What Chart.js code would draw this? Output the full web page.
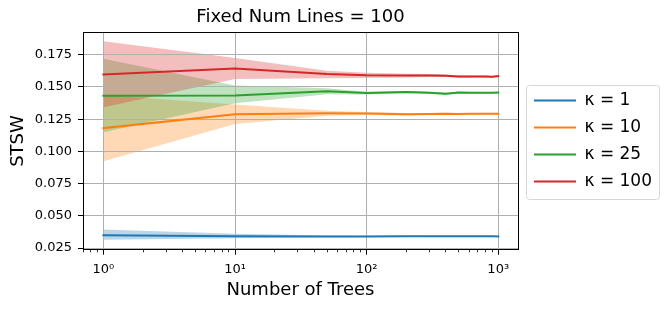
<!DOCTYPE html>
<html>
<head>
<meta charset="utf-8">
<script src="https://cdn.jsdelivr.net/npm/chart.js@4/dist/chart.umd.min.js"></script>
<style>
html,body{margin:0;padding:0;background:#fff;}
#wrap{width:670px;height:312px;position:relative;}
</style>
</head>
<body>
<div id="wrap"><canvas id="c"></canvas></div>
<script>
// ---- data ----
const titleText = 'Fixed Num Lines = 100';
const xAxisLabel = 'Number of Trees';
const yAxisLabel = 'STSW';
const numTrees = [1, 10, 50, 100, 200, 300, 400, 500, 600, 700, 800, 900, 1000];
const seriesLabels = ['κ = 1', 'κ = 10', 'κ = 25', 'κ = 100'];
const seriesColors = ['#1f77b4', '#ff7f0e', '#2ca02c', '#d62728'];
const bandColors = ['rgba(31,119,180,0.3)', 'rgba(255,127,14,0.3)', 'rgba(44,160,44,0.3)', 'rgba(214,39,40,0.3)'];

const meanK1  = [0.0350,0.0342,0.0340,0.0340,0.0342,0.0341,0.0341,0.0341,0.0341,0.0341,0.0341,0.0341,0.0340];
const lowK1   = [0.0315,0.0325,0.0333,0.0335,0.0338,0.0338,0.0338,0.0338,0.0339,0.0339,0.0339,0.0339,0.0338];
const highK1  = [0.0393,0.0360,0.0347,0.0345,0.0346,0.0344,0.0344,0.0344,0.0343,0.0343,0.0343,0.0343,0.0342];

const meanK10 = [0.1181,0.1288,0.1296,0.1294,0.1288,0.1290,0.1292,0.1290,0.1291,0.1291,0.1291,0.1292,0.1292];
const lowK10  = [0.0924,0.1213,0.1276,0.1282,0.1279,0.1282,0.1285,0.1283,0.1284,0.1284,0.1285,0.1286,0.1286];
const highK10 = [0.1438,0.1363,0.1316,0.1306,0.1297,0.1298,0.1299,0.1297,0.1298,0.1298,0.1297,0.1298,0.1298];

const meanK25 = [0.1431,0.1433,0.1467,0.1452,0.1460,0.1455,0.1447,0.1456,0.1455,0.1454,0.1455,0.1455,0.1456];
const lowK25  = [0.1148,0.1374,0.1444,0.1441,0.1451,0.1447,0.1440,0.1449,0.1448,0.1448,0.1449,0.1449,0.1450];
const highK25 = [0.1719,0.1511,0.1489,0.1463,0.1469,0.1463,0.1454,0.1463,0.1462,0.1460,0.1461,0.1461,0.1462];

const meanK100 = [0.1597,0.1643,0.1600,0.1590,0.1588,0.1588,0.1587,0.1580,0.1580,0.1581,0.1580,0.1578,0.1584];
const lowK100  = [0.1343,0.1562,0.1568,0.1570,0.1573,0.1576,0.1577,0.1571,0.1572,0.1573,0.1572,0.1571,0.1577];
const highK100 = [0.1854,0.1724,0.1625,0.1609,0.1603,0.1600,0.1597,0.1589,0.1588,0.1589,0.1588,0.1585,0.1591];

const xTickValues = [1, 10, 100, 1000];
const xTickLabels = ['10⁰', '10¹', '10²', '10³'];
const yTickValues = [0.025, 0.050, 0.075, 0.100, 0.125, 0.150, 0.175];

// ---- build datasets ----
const means = [meanK1, meanK10, meanK25, meanK100];
const lows = [lowK1, lowK10, lowK25, lowK100];
const highs = [highK1, highK10, highK25, highK100];
const pts = arr => arr.map((v, i) => ({x: numTrees[i], y: v}));

const datasets = [];
for (let i = 0; i < 4; i++) {
  datasets.push({
    label: seriesLabels[i], data: pts(means[i]),
    borderColor: seriesColors[i], backgroundColor: seriesColors[i],
    borderWidth: 2, pointRadius: 0, fill: false, tension: 0,
    borderCapStyle: 'square', order: 3 - i
  });
}
for (let i = 0; i < 4; i++) {
  datasets.push({
    label: '_band_hi', data: pts(highs[i]), borderWidth: 0, pointRadius: 0,
    borderColor: 'rgba(0,0,0,0)', backgroundColor: bandColors[i], fill: '+1', tension: 0,
    order: 13 - i, _lastBand: i === 3
  });
  datasets.push({
    label: '_band_lo', data: pts(lows[i]), borderWidth: 0, pointRadius: 0,
    borderColor: 'rgba(0,0,0,0)', backgroundColor: bandColors[i], fill: false, tension: 0,
    order: 13 - i
  });
}

const alignPx = p => Math.round(p - 0.5) + 0.5;

const gridOverBands = {
  id: 'gridOverBands',
  afterDatasetDraw(chart, args) {
    const ds = chart.data.datasets[args.index];
    if (!ds._lastBand) return;
    const ctx = chart.ctx, a = chart.chartArea;
    ctx.save();
    ctx.beginPath(); ctx.rect(a.left, a.top, a.right - a.left, a.bottom - a.top); ctx.clip();
    ctx.strokeStyle = '#b0b0b0'; ctx.lineWidth = 1;
    const xs = chart.scales.x, ys = chart.scales.y;
    xs.ticks.forEach(t => {
      const p = alignPx(xs.getPixelForValue(t.value));
      ctx.beginPath(); ctx.moveTo(p, a.top); ctx.lineTo(p, a.bottom); ctx.stroke();
    });
    ys.ticks.forEach(t => {
      const p = alignPx(ys.getPixelForValue(t.value));
      ctx.beginPath(); ctx.moveTo(a.left, p); ctx.lineTo(a.right, p); ctx.stroke();
    });
    ctx.restore();
  }
};

const frameAndMinor = {
  id: 'frameAndMinor',
  afterDraw(chart) {
    const ctx = chart.ctx, a = chart.chartArea;
    ctx.save();
    ctx.strokeStyle = '#000'; ctx.lineWidth = 1;
    ctx.strokeRect(alignPx(a.left), alignPx(a.top), Math.round(a.right - a.left), Math.round(a.bottom - a.top));
    // minor ticks on log x axis
    const xs = chart.scales.x;
    ctx.lineWidth = 0.8;
    for (let k = -1; k <= 3; k++) {
      for (let m = 2; m <= 9; m++) {
        const v = m * Math.pow(10, k);
        if (v <= xs.min || v >= xs.max) continue;
        const p = alignPx(xs.getPixelForValue(v));
        const yb = alignPx(a.bottom);
        ctx.beginPath(); ctx.moveTo(p, yb); ctx.lineTo(p, yb + 2.8); ctx.stroke();
      }
    }
    // legend frame
    const lg = chart.legend;
    if (lg && lg.legendHitBoxes && lg.legendHitBoxes.length) {
      const hb = lg.legendHitBoxes;
      const l = hb[0].left - 7;
      let r = 0; hb.forEach(h => { r = Math.max(r, h.left + h.width); });
      r += 8;
      const t = hb[0].top + hb[0].height / 2 - 15;
      const b = hb[hb.length - 1].top + hb[hb.length - 1].height / 2 + 18;
      ctx.strokeStyle = '#d6d6d6'; ctx.lineWidth = 1;
      ctx.beginPath();
      ctx.roundRect(alignPx(l), alignPx(t), Math.round(r - l), Math.round(b - t), 3);
      ctx.stroke();
    }
    ctx.restore();
  }
};

Chart.defaults.font.family = '"DejaVu Sans", sans-serif';
Chart.defaults.color = '#000';

new Chart(document.getElementById('c'), {
  type: 'line',
  data: {datasets},
  plugins: [gridOverBands, frameAndMinor],
  options: {
    responsive: true, maintainAspectRatio: false, animation: false,
    layout: {padding: {left: 0, right: 8, top: 0, bottom: 6}},
    plugins: {
      title: {display: true, text: titleText, fullSize: false, color: '#000',
        font: {size: 18, weight: 'normal', lineHeight: 1.2}, padding: {top: 6.5, bottom: 4.3}},
      legend: {
        position: 'right', fullSize: false, align: 'center', maxWidth: 220,
        labels: {
          font: {size: 17}, boxWidth: 42, boxHeight: 2, padding: 10, color: '#000',
          generateLabels(chart) {
            const items = Chart.defaults.plugins.legend.labels.generateLabels(chart);
            return items.filter(it => it.datasetIndex < 4)
              .sort((p, q) => p.datasetIndex - q.datasetIndex)
              .map(it => Object.assign(it, {lineWidth: 0, fillStyle: seriesColors[it.datasetIndex]}));
          }
        }
      },
      tooltip: {enabled: false}
    },
    scales: {
      x: {
        type: 'logarithmic', position: 'bottom',
        min: Math.pow(10, -0.15), max: Math.pow(10, 3.15),
        afterBuildTicks(s) { s.ticks = xTickValues.map(v => ({value: v})); },
        afterFit(s) { s.height = 56.3; },
        ticks: {font: {size: 13}, padding: 7, maxRotation: 0, autoSkip: false,
          callback(v) { const i = xTickValues.indexOf(v); return i >= 0 ? xTickLabels[i] : ''; }},
        grid: {color: '#b0b0b0', lineWidth: 1, tickColor: '#000', tickLength: 5, tickWidth: 1},
        border: {display: false},
        title: {display: true, text: xAxisLabel, font: {size: 18, lineHeight: 1.2}, padding: {top: 4, bottom: 4.4}}
      },
      y: {
        type: 'linear', position: 'left',
        min: 0.0237, max: 0.1923,
        afterBuildTicks(s) { s.ticks = yTickValues.map(v => ({value: v})); },
        afterFit(s) { s.width = 83; },
        ticks: {font: {size: 13}, padding: 6, autoSkip: false, callback: v => Number(v).toFixed(3)},
        grid: {color: '#b0b0b0', lineWidth: 1, tickColor: '#000', tickLength: 5, tickWidth: 1},
        border: {display: false},
        title: {display: true, text: yAxisLabel, font: {size: 18, lineHeight: 1.2}, padding: {top: 7.5, bottom: 4}}
      },
      spacer: {
        type: 'linear', position: 'right', display: true,
        grid: {display: false, drawTicks: false}, ticks: {display: false}, border: {display: false},
        afterFit(s) { s.width = 6; }
      }
    }
  }
});
</script>
</body>
</html>
